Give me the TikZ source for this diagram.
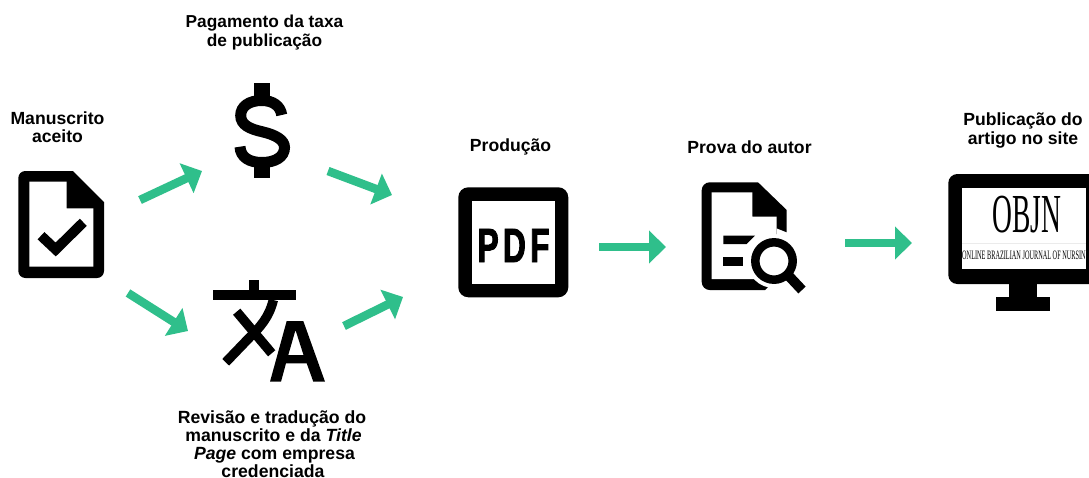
\documentclass[tikz,border=0pt]{standalone}
\usepackage{fontspec}
\setmainfont{Liberation Sans}
\newfontfamily\pdffont[FakeStretch=0.66,LetterSpace=9,FakeBold=2]{Liberation Sans Bold}
\newfontfamily\objnfont[FakeStretch=0.5]{Liberation Serif}
\usetikzlibrary{arrows.meta}
\definecolor{arrowgreen}{HTML}{2FBF8B}
\tikzset{
  x=1pt,y=-1pt,
  lbl/.style={font=\fontsize{17.6}{18.5}\selectfont\bfseries,inner sep=0pt,align=center,text=black},
  flow/.style={draw=arrowgreen,line width=8.5pt,-{Triangle[length=17pt,width=32pt,fill=arrowgreen]}},
  ink/.style={fill=black,draw=none},
  inkline/.style={draw=black,fill=none},
}
\begin{document}
\begin{tikzpicture}
\useasboundingbox (0,0) rectangle (1089,477);
\fill[white] (0,0) rectangle (1089,477);
% labels
\node[lbl] (tManus) at (57.5,127) {Manuscrito\\aceito};
\node[lbl,font=\fontsize{17.3}{18.4}\selectfont\bfseries] (tPag) at (264.5,32.5) {Pagamento da taxa\\de publicação};
\node[lbl,font=\fontsize{17.65}{18}\selectfont\bfseries] (tRev) at (272,444) {Revisão e tradução do\\\hspace{3pt}manuscrito e da \textit{Title}\\\hspace{5pt}\textit{Page} com empresa\\\hspace{2pt}credenciada};
\node[lbl] (tProd) at (510.5,147) {Produção};
\node[lbl] (tProva) at (749.5,147) {Prova do autor};
\node[lbl] (tPub) at (1023,130.5) {Publicação do\\artigo no site};
% manuscript icon
\path[ink] (73,171) -- (104,202) [rounded corners=7pt] -- (104,278) -- (18.3,278) -- (18.3,171) [sharp corners] -- cycle;
\fill[white] (29.3,181.7) -- (66.7,181.7) -- (66.7,208.3) -- (93.3,208.3) -- (93.3,266.7) -- (29.3,266.7) -- cycle;
\draw[inkline,line width=10pt] (41,235.7) -- (55.7,249.5) -- (83.3,222.3);
% dollar icon
\fill[black] (254.3,83) rectangle (270,100);
\fill[black] (254.3,163) rectangle (270,178);
\draw[inkline,line width=11pt] (281.7,115) .. controls (280.5,106) and (273,100.5) .. (261.7,100.5) .. controls (249,100.5) and (240.7,106.5) .. (240.7,115.5) .. controls (240.7,125) and (250,129) .. (262,131.7) .. controls (276,135) and (284.5,140) .. (284.5,147.5) .. controls (284.5,157) and (275,162.5) .. (262,162.5) .. controls (249,162.5) and (240.5,157) .. (240,146.7);
% translate icon
\fill[black] (213.3,290) rectangle (295.7,300);
\fill[black] (249,280) rectangle (259,291);
\draw[inkline,line width=9.5pt] (273.3,300) .. controls (269,318) and (259,328) .. (250,337) -- (225.7,362.3);
\draw[inkline,line width=9.5pt] (236.7,311.7) -- (271.7,353.3);
\path[ink,even odd rule] (286.7,321) -- (303.3,321) -- (325,381.7) -- (313.3,381.7) -- (306.7,363.3) -- (286,363.3) -- (281,381.7) -- (270,381.7) -- cycle
 (295.5,330) -- (288.3,355) -- (303.5,355) -- cycle;
% PDF icon
\fill[black,rounded corners=10pt] (458.3,187.3) rectangle (568.3,297.3);
\fill[white] (471.7,200.7) rectangle (555,284);
\node[inner sep=0pt,font=\pdffont\fontsize{48}{48}\selectfont] (iPdf) at (513.5,245.5) {PDF};
% proof icon
\path[ink] (758,182.3) -- (786.7,210) -- (786.7,232.3) -- (776.7,228.3) -- (776.7,279) -- (765,290) [rounded corners=8pt] -- (701.7,290) -- (701.7,182.3) [sharp corners] -- cycle;
\fill[white] (711.7,192.3) -- (752.3,192.3) -- (752.3,216.7) -- (776.7,216.7) -- (776.7,228.3) -- (776.7,279) -- (711.7,279) -- cycle;
\fill[black] (723.3,235.7) -- (755,235.7) -- (746.7,244) -- (723.3,244) -- cycle;
\fill[black] (723.3,256.7) rectangle (743.3,265.7);
\fill[white] (774,261) circle (27);
\draw[inkline,line width=8.5pt] (774,261) circle (18.7);
\draw[inkline,line width=10pt] (787,274) -- (802,290);
% monitor icon
\begin{scope}
\clip (0,0) rectangle (1089,477);
\fill[black,rounded corners=9pt] (948.3,174) rectangle (1110,284);
\fill[white] (961.7,187.7) rectangle (1086,269.3);
\fill[black] (1009.3,284) rectangle (1036.7,298);
\fill[black] (996,297) rectangle (1050,310.7);
\draw[black!8,line width=0.4pt] (962,242.7) -- (1086,242.7);
\node[inner sep=0pt,font=\objnfont\fontsize{55}{55}\selectfont] (tObjn) at (1027,214.5) {OBJN};
\node[inner sep=0pt,anchor=west] (tSub) at (962,255) {\resizebox{123.5pt}{8.5pt}{\objnfont ONLINE BRAZILIAN JOURNAL OF NURSIN}};
\end{scope}
% flows
\coordinate (a1s) at (140,200); \coordinate (a1e) at (202,171);
\coordinate (a2s) at (128,293); \coordinate (a2e) at (188,331);
\coordinate (a3s) at (328,171); \coordinate (a3e) at (392,195);
\coordinate (a4s) at (344,326); \coordinate (a4e) at (403,297);
\coordinate (a5s) at (599,247); \coordinate (a5e) at (666,247);
\coordinate (a6s) at (845,243); \coordinate (a6e) at (912,243);
\draw[flow] (a1s) -- (a1e);
\draw[flow] (a2s) -- (a2e);
\draw[flow] (a3s) -- (a3e);
\draw[flow] (a4s) -- (a4e);
\draw[flow] (a5s) -- (a5e);
\draw[flow] (a6s) -- (a6e);
\end{tikzpicture}
\end{document}
